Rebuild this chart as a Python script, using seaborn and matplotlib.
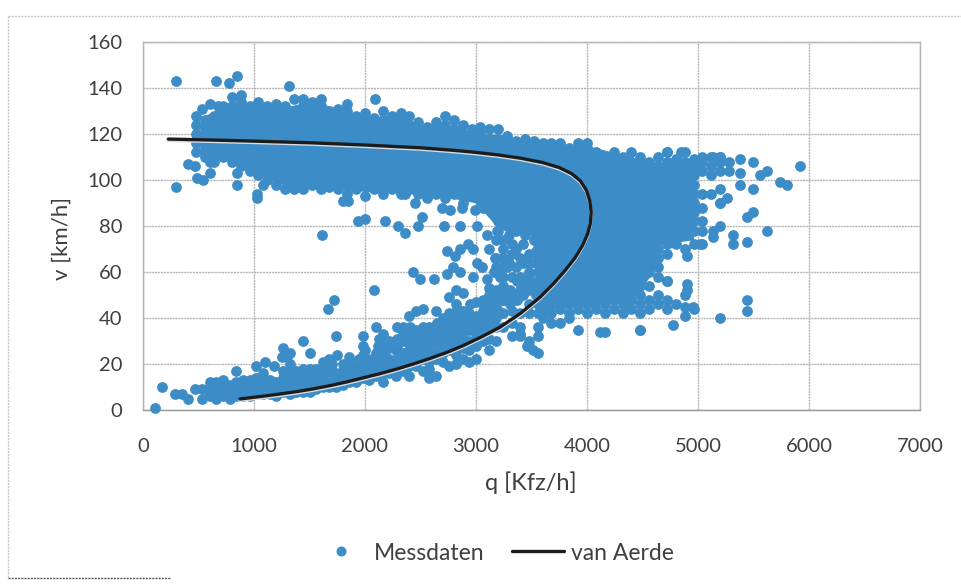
import matplotlib
matplotlib.use("Agg")
import matplotlib.pyplot as plt
import matplotlib.patheffects as pe
from matplotlib.lines import Line2D
import pandas as pd
import seaborn as sns

# dense upper band: one flow value per column, measured speeds per column
q_upper = [480, 560, 640, 720, 800, 880, 960, 1040, 1120, 1200, 1280, 1360, 1440, 1520, 1600, 1680, 1760, 1840,
           1920, 2000, 2080, 2160, 2240, 2320, 2400, 2480, 2560, 2640, 2720, 2800, 2880, 2960, 3040, 3120]
v_upper = [
    [112, 116, 120, 124, 128], [110, 114, 118, 122, 126], [108, 112, 116, 120, 124, 128],
    [110, 114, 118, 122, 126, 130], [108, 112, 116, 120, 124, 128, 132, 136], [106, 110, 114, 118, 122, 126, 130, 134, 137],
    [104, 108, 112, 116, 120, 124, 128, 132], [102, 106, 110, 114, 118, 122, 126, 130, 134], [100, 104, 108, 112, 116, 120, 124, 128, 132],
    [98, 102, 106, 110, 114, 118, 122, 126, 130, 133], [96, 100, 104, 108, 112, 116, 120, 124, 128, 132], [96, 98, 102, 106, 110, 114, 118, 122, 126, 130, 135],
    [96, 100, 104, 108, 112, 116, 120, 124, 128, 132, 135], [98, 102, 106, 110, 114, 118, 122, 126, 130, 134], [96, 100, 104, 108, 112, 116, 120, 124, 128, 132, 135],
    [97, 102, 106, 110, 114, 118, 122, 126, 130], [96, 100, 104, 108, 112, 116, 120, 124, 128, 131], [94, 98, 102, 106, 110, 114, 118, 122, 126, 130, 133],
    [96, 100, 104, 108, 112, 116, 120, 124, 128], [93, 98, 102, 106, 110, 114, 118, 122, 126, 129], [96, 100, 104, 108, 112, 116, 120, 124, 127],
    [94, 98, 102, 106, 110, 114, 118, 122, 126, 130], [96, 100, 104, 108, 112, 116, 120, 124, 128], [94, 98, 102, 106, 110, 114, 118, 122, 126, 129],
    [96, 100, 104, 108, 112, 116, 120, 124, 128], [94, 98, 102, 106, 110, 114, 118, 122, 125], [92, 96, 100, 104, 108, 112, 116, 120, 123],
    [94, 98, 102, 106, 110, 114, 118, 122, 125], [92, 96, 100, 104, 108, 112, 116, 120, 124, 128], [94, 98, 102, 106, 110, 114, 118, 122, 126],
    [90, 96, 100, 104, 108, 112, 116, 120, 124], [94, 98, 102, 106, 110, 114, 118, 122], [91, 96, 100, 104, 108, 112, 116, 120, 123],
    [88, 94, 98, 102, 106, 110, 114, 118, 122],
]

# congested / capacity body
q_body = [3200, 3280, 3360, 3440, 3520, 3600, 3680, 3760, 3840, 3920, 4000, 4080, 4160, 4240, 4320, 4400, 4480, 4560,
          4640, 4720, 4800, 4880, 4960, 5040, 5120, 5200, 5280]
v_body = [
    [78, 82, 86, 90, 94, 98, 102, 106, 110, 114, 118, 122], [80, 84, 88, 92, 96, 100, 104, 108, 112, 116, 119],
    [78, 82, 86, 90, 94, 98, 102, 106, 110, 114, 117], [76, 80, 84, 88, 92, 96, 100, 104, 108, 112, 116, 118],
    [74, 78, 82, 86, 90, 94, 98, 102, 106, 110, 114, 117],
    [40, 44, 48, 52, 56, 60, 64, 68, 72, 76, 80, 84, 88, 92, 96, 100, 104, 108, 112, 116],
    [38, 42, 46, 50, 54, 58, 62, 66, 70, 74, 78, 82, 86, 90, 94, 98, 102, 106, 110, 114, 116],
    [38, 44, 48, 52, 56, 60, 64, 68, 72, 76, 80, 84, 88, 92, 96, 100, 104, 108, 112, 116],
    [40, 42, 46, 50, 54, 58, 62, 66, 70, 74, 78, 82, 86, 90, 94, 98, 102, 106, 110, 114],
    [35, 44, 48, 52, 56, 60, 64, 68, 72, 76, 80, 84, 88, 92, 96, 100, 104, 108, 112, 116],
    [42, 46, 50, 54, 58, 62, 66, 70, 74, 78, 82, 86, 90, 94, 98, 102, 106, 110, 114, 116],
    [44, 48, 52, 56, 60, 64, 68, 72, 76, 80, 84, 88, 92, 96, 100, 104, 108, 112],
    [34, 42, 46, 50, 54, 58, 62, 66, 70, 74, 78, 82, 86, 90, 94, 98, 102, 106, 110],
    [44, 48, 52, 60, 64, 68, 72, 76, 80, 84, 88, 92, 96, 100, 104, 108, 112],
    [42, 46, 50, 54, 58, 62, 66, 70, 74, 78, 82, 86, 90, 94, 98, 102, 106, 110],
    [44, 48, 52, 56, 60, 64, 68, 72, 76, 80, 84, 88, 92, 96, 100, 104, 108, 112],
    [35, 42, 46, 50, 54, 58, 62, 66, 70, 74, 78, 82, 86, 90, 94, 98, 102, 106, 110],
    [44, 48, 54, 60, 64, 68, 72, 76, 80, 84, 88, 92, 96, 100, 104, 108],
    [46, 50, 58, 62, 66, 70, 74, 78, 82, 86, 90, 94, 98, 102, 106, 110],
    [44, 48, 56, 68, 72, 76, 80, 84, 88, 92, 96, 100, 104, 108, 112],
    [46, 72, 78, 82, 86, 90, 94, 98, 102, 106, 109],
    [45, 50, 70, 76, 80, 84, 88, 92, 96, 100, 104, 108, 112],
    [44, 72, 78, 82, 86, 90, 94, 98, 102, 106, 109],
    [72, 78, 82, 88, 94, 104, 108, 110], [94, 102, 106, 110], [90, 96, 104, 108, 110], [104, 108],
]

# free-flow lower branch columns
q_low = [528, 600, 660, 720, 780, 840, 900, 960, 1020, 1080, 1140, 1200, 1260, 1320, 1380, 1440, 1500, 1560, 1620,
         1680, 1740, 1800, 1860, 1920, 1980, 2040, 2100, 2160, 2220, 2280, 2340, 2400, 2460, 2520, 2580, 2640, 2700,
         2760, 2820, 2880, 2940, 3000, 3060, 3120, 3180, 3240, 3320, 3400, 3480, 3560]
v_low = [
    [5, 9], [6, 10, 12], [5, 8, 12], [6, 9, 13], [5, 8, 11], [6, 9, 12, 17], [6, 10, 13], [6, 9, 13], [7, 10, 14, 19],
    [7, 10, 14, 16], [7, 10, 13], [6, 9, 12], [8, 11, 14, 17, 27], [7, 10, 13, 16, 20, 25], [8, 11, 14, 17],
    [8, 11, 15, 18, 30], [8, 11, 14, 18, 25], [9, 12, 15, 18], [10, 13, 16, 21], [10, 13, 17, 22], [10, 13, 16, 32],
    [11, 14, 17, 20], [12, 15, 18, 21, 23], [12, 15, 19], [14, 17, 20, 24, 28, 32], [13, 16, 20],
    [15, 18, 22, 25, 36], [12, 16, 19, 23, 29, 33], [16, 19, 22, 27], [15, 18, 21, 26], [17, 20, 25, 30, 34],
    [15, 19, 22, 26, 29, 33, 41], [19, 22, 25, 29, 33, 35, 43], [17, 22, 26, 30, 34, 44], [14, 18, 21, 24, 28, 32, 36],
    [15, 22, 25, 29, 33, 37, 43], [21, 25, 29, 33, 37], [19, 26, 30, 34, 38, 42, 49], [20, 24, 28, 33, 37, 41, 46, 52],
    [22, 27, 31, 36, 40, 43, 51], [21, 26, 30, 35, 39, 42], [22, 28, 33, 37, 41, 47], [30, 34, 38, 43, 46],
    [26, 31, 36, 41, 45, 50, 53], [30, 36, 40, 44, 48, 52, 62, 66], [36, 42, 48, 50, 58, 62, 70], [32, 38, 43, 50, 58, 68, 72],
    [32, 36, 42, 52, 58, 66], [28, 30, 42, 46, 52, 58, 64, 68], [25, 32, 36, 42, 46, 50, 56, 60, 66, 72],
]

# isolated measurements
q_loose = [108, 168, 288, 348, 408, 468, 1610, 2084, 1670, 1724, 2435, 2495, 2620, 2735, 2795, 2856, 2976, 3096,
           2735, 2811, 2856, 2931, 2976, 3006, 3051, 3171, 2300, 2360, 2480, 2180, 1937, 1997, 2715, 2856, 3006, 3096, 3186,
           1805, 1850, 2360, 2450, 2510, 2690, 2765, 2870, 2990, 3066, 1024, 1024, 843, 843, 297, 297, 657, 777, 843, 1318,
           468, 408, 483, 543, 603, 603, 1078, 528, 603, 678, 723, 2090, 4718, 4844, 5138, 5198, 5378, 5498, 5618, 5558,
           5918, 5738, 5798, 5378, 5378, 5498, 5258, 5198, 5498, 5438, 5198, 5138, 5138, 5618, 5318, 5318, 5438, 5018,
           4903, 4718, 4898, 4898, 5438, 5438, 5198, 4958, 4883, 4778, 4478, 4118, 3516, 3456, 3396]
v_loose = [1, 10, 7, 7, 5, 9, 76, 52, 44, 48, 60, 57, 57, 59, 62, 60, 58, 57,
           69, 67, 70, 72, 70, 64, 62, 66, 80, 77, 80, 82, 82, 83, 80, 80, 80, 76, 78,
           91, 91, 94, 90, 84, 88, 87, 88, 87, 88, 94, 92, 103, 98, 97, 143, 143, 142, 145, 141,
           106, 107, 101, 100, 103, 108, 98, 131, 133, 132, 132, 135, 112, 112, 110, 110, 109, 108, 104, 102,
           106, 99, 98, 103, 98, 96, 92, 90, 86, 84, 80, 78, 75, 78, 76, 72, 73, 72,
           67, 56, 55, 52, 48, 43, 40, 45, 41, 37, 35, 34, 26, 28, 33]

# further points in the transition zone between the branches
q_mid = [2285, 2285, 2285, 2345, 2345, 2345, 2405, 2405, 2405, 2465, 2465, 2525, 2525, 2525, 2585, 2585, 2645, 2645,
         2705, 2705, 2705, 2765, 2765, 2825, 2825, 2885, 2885, 2945, 2945, 3005, 3005, 3065, 3065, 3125, 3125, 3185,
         3245, 3245, 3305, 3305, 3365, 3365, 3425, 3425, 3485, 3545, 3545,
         3120, 3180, 3240, 3240, 3300, 3300, 3360, 3360, 3420, 3420, 3480, 3540, 3540, 3160, 3220, 3280,
         1100, 1180, 1250, 1300, 1650, 1700, 1750, 1850, 1950, 2000, 2050, 2120, 2120, 2220, 2300, 2130, 2180]
v_mid = [36, 31, 27, 36, 31, 24, 31, 36, 25, 31, 27, 36, 28, 24, 35, 29, 38, 31,
         35, 27, 40, 38, 32, 31, 44, 34, 38, 37, 46, 40, 35, 48, 40, 38, 47, 44,
         48, 54, 52, 46, 48, 56, 50, 55, 54, 50, 54,
         70, 74, 66, 74, 64, 76, 62, 70, 64, 72, 60, 64, 69, 60, 58, 62,
         21, 19, 23, 23, 19, 20, 24, 18, 22, 26, 22, 28, 20, 30, 23, 31, 26]

# overplotted core of the cloud, where single markers can no longer be told apart
q_core = [520, 800, 1000, 1200, 1400, 1600, 1800, 2000, 2200, 2400, 2600, 2800, 3000, 3200, 3500, 3590,
          3600, 4000, 4400, 4600, 4640, 4960]
v_core_lo = [110, 108, 103, 99, 97, 97, 96, 95, 95, 94, 93, 92, 90, 79, 76, 74,
             44, 45, 48, 60, 72, 74]
v_core_hi = [127, 134, 133, 131, 133, 133, 131, 127, 128, 126, 122, 124, 120, 120, 116, 116,
             116, 115, 110, 108, 106, 107]
q_core_low = [550, 1000, 1500, 2000, 2400]
v_core_low_lo = [6, 7, 9, 14, 19]
v_core_low_hi = [10, 13, 16, 20, 26]

# van Aerde fitted curve
q_curve = [228, 600, 1000, 1500, 2000, 2500, 2800, 3000, 3200, 3400, 3600, 3750, 3860, 3940, 3995, 4025, 4038, 4030,
           4005, 3960, 3890, 3800, 3700, 3576, 3400, 3216, 3050, 2885, 2735, 2585, 2435, 2285, 2135, 1985, 1835, 1685,
           1535, 1385, 1240, 1100, 874]
v_curve = [117.8, 117.4, 116.9, 116.2, 115.2, 114.0, 112.9, 112, 110.9, 109.5, 107.6, 105.4, 102.8, 99.6, 95.5, 91, 86, 81,
           76.5, 71.5, 66, 60.5, 55, 49, 42, 36, 31.8, 28, 25, 22.4, 20, 17.8, 15.8, 14, 12.2, 10.6,
           9.2, 8, 7, 6.1, 4.8]

x_ticks = [0, 1000, 2000, 3000, 4000, 5000, 6000, 7000]
y_ticks = [0, 20, 40, 60, 80, 100, 120, 140, 160]

points = []
for qs, vs in [(q_upper, v_upper), (q_body, v_body), (q_low, v_low)]:
    for q, col in zip(qs, vs):
        points += [(q, v) for v in col]
points += list(zip(q_loose, v_loose))
points += list(zip(q_mid, v_mid))
measured = pd.DataFrame(points, columns=["q", "v"])
curve = pd.DataFrame({"q": q_curve, "v": v_curve})

sns.set_theme(style="white")
plt.rcParams["font.family"] = ["Lato", "DejaVu Sans"]
TXT = "#3f3f3f"
GRID = "#b4b4b4"
BLUE = "#3b8cc7"

fig = plt.figure(figsize=(9.62, 5.85), dpi=100, facecolor="white")
ax = fig.add_axes([143 / 962, 1 - 410 / 585, 777 / 962, 368 / 585])

ax.fill_between(q_core, v_core_lo, v_core_hi, color=BLUE, linewidth=0, zorder=2.9)
ax.fill_between(q_core_low, v_core_low_lo, v_core_low_hi, color=BLUE, linewidth=0, zorder=2.9)
sns.scatterplot(data=measured, x="q", y="v", s=60, color=BLUE, linewidth=0, alpha=1,
                ax=ax, zorder=3, clip_on=False)
sns.lineplot(data=curve, x="q", y="v", sort=False, estimator=None, color="#1c1c1c", linewidth=2.4,
             ax=ax, zorder=4)
ax.lines[-1].set_path_effects([
    pe.SimpleLineShadow(offset=(0, -1.0), shadow_color="#d5dde6", alpha=1),
    pe.Normal(),
])

ax.set_xlim(0, 7000)
ax.set_ylim(0, 160)
ax.set_xticks(x_ticks)
ax.set_yticks(y_ticks)
ax.grid(True, color=GRID, linewidth=1, linestyle=(0, (1.5, 0.6)))
ax.set_axisbelow(True)
for s in ax.spines.values():
    s.set_color(GRID)
    s.set_linewidth(1)
    s.set_linestyle((0, (1.5, 0.6)))
ax.spines["bottom"].set_color("#9a9a9a")
ax.tick_params(axis="x", length=0, pad=20, labelsize=14.5, labelcolor=TXT)
ax.tick_params(axis="y", length=0, pad=15, labelsize=14.5, labelcolor=TXT)
ax.set_xlabel("")
ax.set_ylabel("")
fig.text(531 / 962, 1 - 483 / 585, "q [Kfz/h]", ha="center", va="center", fontsize=17, color=TXT)
fig.text(62 / 962, 1 - 238 / 585, "v [km/h]", ha="center", va="center", rotation=90, fontsize=16, color=TXT)

handles = [
    Line2D([], [], linestyle="none", marker="o", markersize=7.2, color=BLUE, markeredgewidth=0, label="Messdaten"),
    Line2D([], [], color="#1c1c1c", linewidth=2.4, label="van Aerde"),
]
fig.legend(handles=handles, loc="center", bbox_to_anchor=(494 / 962, 1 - 553 / 585), ncol=2, frameon=False,
           fontsize=16.5, labelcolor=TXT, columnspacing=1.2, handlelength=2.27, handletextpad=0.3)

# outer chart frame
frame = dict(color="#c4c4c4", linewidth=1, linestyle=(0, (1.5, 0.8)), transform=fig.transFigure)
fig.add_artist(Line2D([8 / 962, 1], [1 - 16 / 585, 1 - 16 / 585], **frame))
fig.add_artist(Line2D([8 / 962, 8 / 962], [1 - 16 / 585, 1 - 578 / 585], **frame))
fig.add_artist(Line2D([8 / 962, 170 / 962], [1 - 578 / 585, 1 - 578 / 585], color="#555555", linewidth=1,
                      linestyle=(0, (1.5, 0.8)), transform=fig.transFigure))

fig.savefig("out.png", dpi=100, facecolor="white")
